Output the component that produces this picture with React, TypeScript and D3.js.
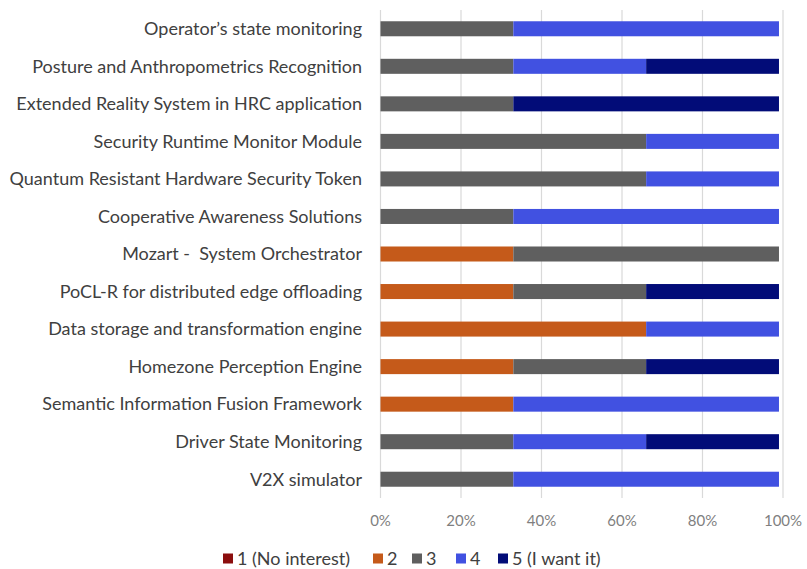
import React, { useEffect, useRef } from "react";
import * as d3 from "d3";

const categories = [
  "Operator’s state monitoring",
  "Posture and Anthropometrics Recognition",
  "Extended Reality System in HRC application",
  "Security Runtime Monitor Module",
  "Quantum Resistant Hardware Security Token",
  "Cooperative Awareness Solutions",
  "Mozart -  System Orchestrator",
  "PoCL-R for distributed edge offloading",
  "Data storage and transformation engine",
  "Homezone Perception Engine",
  "Semantic Information Fusion Framework",
  "Driver State Monitoring",
  "V2X simulator",
];

const seriesNames = ["1 (No interest)", "2", "3", "4", "5 (I want it)"];
const s1 = [0, 0, 0, 0, 0, 0, 0, 0, 0, 0, 0, 0, 0];
const s2 = [0, 0, 0, 0, 0, 0, 33, 33, 66, 33, 33, 0, 0];
const s3 = [33, 33, 33, 66, 66, 33, 66, 33, 0, 33, 0, 33, 33];
const s4 = [66, 33, 0, 33, 33, 66, 0, 0, 33, 0, 66, 33, 66];
const s5 = [0, 33, 66, 0, 0, 0, 0, 33, 0, 33, 0, 33, 0];
const tickValues = [0, 20, 40, 60, 80, 100];
const colors = ["#8B0E0E", "#C55A1A", "#5F5F5F", "#4151E1", "#020C78"];

export default function App() {
  const ref = useRef<SVGSVGElement>(null);
  useEffect(() => {
    document.body.style.margin = "0";
    document.body.style.overflow = "hidden";
    const svg = d3.select(ref.current);
    svg.selectAll("*").remove();
    const W = 807, H = 569;
    const x = d3.scaleLinear().domain([0, 100]).range([380.5, 783]);
    const y = d3.scaleBand().domain(categories).range([10, 498]).paddingInner(0.6).paddingOuter(0.3);
    const font = "Lato, 'Open Sans', sans-serif";

    svg.append("rect").attr("width", W).attr("height", H).attr("fill", "#fff");

    svg.append("g").selectAll("line").data(tickValues).join("line")
      .attr("x1", d => x(d)).attr("x2", d => x(d))
      .attr("y1", 10).attr("y2", 498)
      .attr("stroke", "#d9d9d9").attr("stroke-width", 1.2);

    const rows = categories.map((c, i) => ({ cat: c, v: [s1[i], s2[i], s3[i], s4[i], s5[i]] }));
    const stacked = d3.stack<any>().keys([0, 1, 2, 3, 4] as any).value((d: any, k: any) => d.v[k])(rows);

    stacked.forEach((layer, li) => {
      svg.append("g").selectAll("rect").data(layer).join("rect")
        .attr("x", (d: any) => x(d[0]))
        .attr("width", (d: any) => Math.max(0, x(d[1]) - x(d[0])))
        .attr("y", (d: any) => y(d.data.cat)!)
        .attr("height", y.bandwidth())
        .attr("fill", colors[li]);
    });

    svg.append("g").selectAll("text").data(categories).join("text")
      .attr("x", 362).attr("y", d => y(d)! + y.bandwidth() / 2)
      .attr("dy", "0.35em").attr("text-anchor", "end")
      .attr("font-family", font).attr("font-size", 18).attr("fill", "#404040")
      .style("white-space", "pre")
      .text(d => d);

    svg.append("g").selectAll("text").data(tickValues).join("text")
      .attr("x", d => x(d)).attr("y", 521).attr("dy", "0.35em")
      .attr("text-anchor", "middle")
      .attr("font-family", font).attr("font-size", 15).attr("fill", "#7f7f7f")
      .text(d => d + "%");

    const legX = [223, 373, 412, 456, 498];
    const lg = svg.append("g");
    seriesNames.forEach((n, i) => {
      lg.append("rect").attr("x", legX[i]).attr("y", 553.5).attr("width", 10).attr("height", 10).attr("fill", colors[i]);
      lg.append("text").attr("x", legX[i] + 14).attr("y", 558.5).attr("dy", "0.35em")
        .attr("font-family", font).attr("font-size", 18).attr("fill", "#404040").text(n);
    });
  }, []);
  return <svg ref={ref} width={807} height={569} style={{ display: "block", position: "absolute", top: 0, left: 0 }} />;
}
